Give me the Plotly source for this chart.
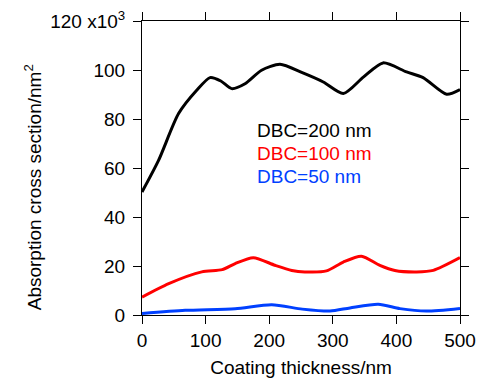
import plotly.graph_objects as go

# Absorption cross section (x10^3 nm^2) vs coating thickness (nm)
x_200 = [0, 26, 57.5, 86, 107, 124, 141, 162, 188, 217, 251, 285, 316.5, 348, 379, 416, 442, 479, 500]
y_200 = [50.2, 63.1, 82.2, 91.7, 96.9, 95.5, 92.4, 94.4, 99.9, 102.3, 99.0, 95.1, 90.4, 97.1, 102.9, 99.2, 96.9, 90.1, 92.0]

x_100 = [0, 42, 94, 126, 146.5, 175, 209, 235.5, 256, 290, 316.5, 345, 374, 397.6, 431.7, 458, 500]
y_100 = [7.3, 12.8, 17.6, 18.5, 21.0, 23.4, 20.3, 18.2, 17.6, 18.0, 21.6, 24.0, 20.3, 18.2, 17.6, 18.2, 23.4]

x_50 = [0, 68, 146.5, 204, 252, 295.6, 327, 371.5, 405.5, 447, 500]
y_50 = [0.6, 1.9, 2.6, 4.2, 2.4, 1.6, 2.9, 4.4, 2.6, 1.6, 2.7]

series = [
    ("DBC=200 nm", x_200, y_200, "#000000"),
    ("DBC=100 nm", x_100, y_100, "#ff0000"),
    ("DBC=50 nm", x_50, y_50, "#0040ff"),
]

y_tickvals = [0, 20, 40, 60, 80, 100, 120]
y_ticktext = ["0", "20", "40", "60", "80", "100", "120 x10<sup>3</sup>"]
x_tickvals = [0, 100, 200, 300, 400, 500]

label_y = [75.4, 65.8, 56.4]

FONT = "Liberation Sans, Arial, sans-serif"

fig = go.Figure()
for name, xs, ys, color in series:
    fig.add_trace(go.Scatter(
        x=xs, y=ys, mode="lines", name=name,
        line=dict(color=color, width=3, shape="spline", smoothing=0.7),
        showlegend=False,
    ))

for (name, _, _, color), ly in zip(series, label_y):
    fig.add_annotation(
        x=178, y=ly, xref="x", yref="y", text=name, showarrow=False,
        xanchor="left", yanchor="middle",
        font=dict(family=FONT, size=19, color=color),
    )

fig.add_annotation(
    x=-0.34, y=0.434, xref="paper", yref="paper",
    text="Absorption cross section/nm<sup>2</sup>", textangle=-90,
    showarrow=False, xanchor="center", yanchor="middle",
    font=dict(family=FONT, size=19, color="#000000"),
)

axis_common = dict(
    showline=True, linecolor="#000000", linewidth=1, mirror="ticks",
    ticks="outside", ticklen=8, tickwidth=1, tickcolor="#000000",
    showgrid=False, zeroline=False, automargin=False,
    tickfont=dict(family=FONT, size=19, color="#000000"),
)

fig.update_xaxes(
    range=[0, 500], tickvals=x_tickvals,
    title=dict(text="Coating thickness/nm", font=dict(family=FONT, size=19, color="#000000"), standoff=10),
    **axis_common,
)
fig.update_yaxes(
    range=[0, 120], tickvals=y_tickvals, ticktext=y_ticktext,
    ticklabelstandoff=4,
    **axis_common,
)

fig.update_layout(
    width=480, height=385,
    margin=dict(l=142, r=20, t=21, b=70),
    paper_bgcolor="#ffffff", plot_bgcolor="#ffffff",
)

fig.write_html("out.html")
